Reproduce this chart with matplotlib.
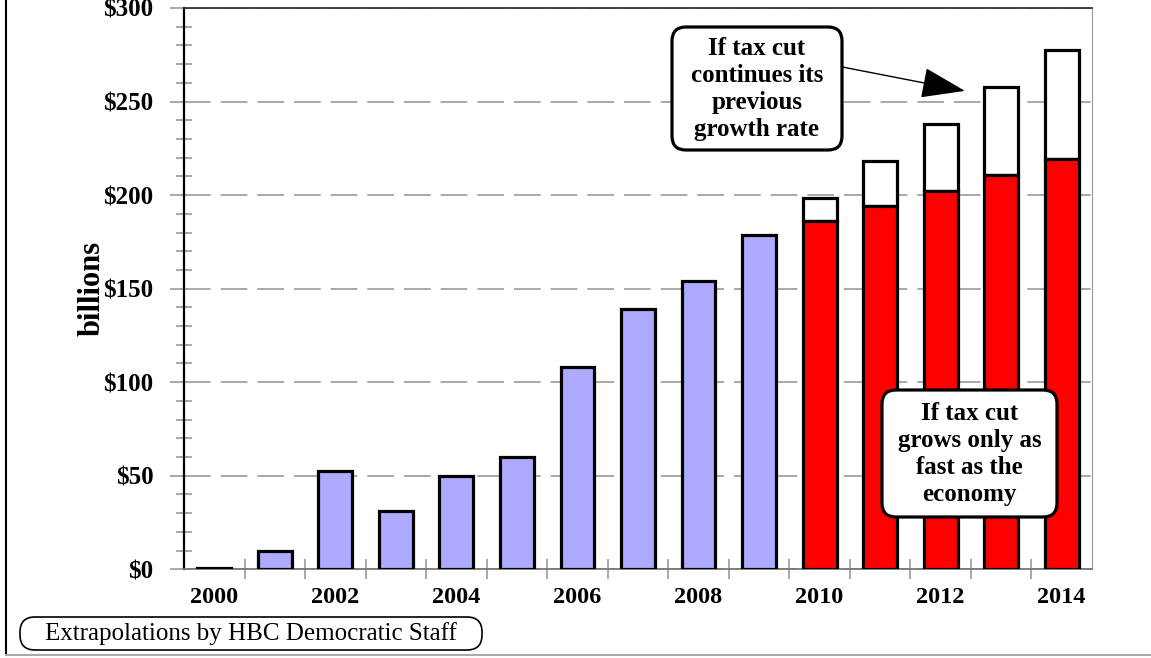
import numpy as np
import matplotlib
matplotlib.use("Agg")
import matplotlib.pyplot as plt
from matplotlib.lines import Line2D
from matplotlib.patches import FancyBboxPatch
from matplotlib.transforms import IdentityTransform
from matplotlib.ticker import MultipleLocator, FuncFormatter

# data (billions of dollars)
years = list(range(2000, 2015))
actual_years = years[:10]
actual_cost = [0.5, 10, 52.3, 31.2, 50.1, 59.8, 108, 139, 154, 178.5]
proj_years = years[10:]
econ_growth = [186.2, 194.2, 202, 210.8, 219.2]     # grows as fast as economy
prev_growth = [198.2, 218, 237.8, 257.6, 277.6]     # continues previous growth rate

plt.rcParams['font.family'] = ['Liberation Serif', 'DejaVu Serif']

W, H = 1151, 658
fig = plt.figure(figsize=(W / 100, H / 100), dpi=100)
ax = fig.add_axes([184 / W, 1 - 569.3 / H, (1092 - 184) / W, (569.3 - 8) / H])

lavender = '#aeaaff'
w = 0.56
xa = np.arange(len(actual_years))
xp = np.arange(len(actual_years), len(years))
ax.bar(xa, actual_cost, width=w, color=lavender, edgecolor='black', linewidth=2.3, zorder=3)
ax.bar(xp, np.array(prev_growth) - np.array(econ_growth), bottom=econ_growth, width=w,
       color='white', edgecolor='black', linewidth=2.3, zorder=3)
ax.bar(xp, econ_growth, width=w, color='#ff0000', edgecolor='black', linewidth=2.3, zorder=3)

ax.set_xlim(-0.5, len(years) - 0.5)
ax.set_ylim(0, 300)

# y axis
ax.yaxis.set_major_locator(MultipleLocator(50))
ax.yaxis.set_minor_locator(MultipleLocator(10))
ax.yaxis.set_major_formatter(FuncFormatter(lambda v, p: '${:d}'.format(int(v))))
ax.tick_params(axis='y', which='major', direction='out', length=10, width=1.2, color='#999999',
               labelsize=18, pad=12)
ax.tick_params(axis='y', which='minor', direction='inout', length=12, width=1.2, color='#999999')
ax.grid(axis='y', which='major', color='#999999', linewidth=1.2, linestyle=(0, (16, 6)), zorder=0)

# x axis
ax.set_xticks(np.arange(0, len(years), 2))
ax.set_xticklabels([str(y) for y in years[::2]])
ax.set_xticks(np.arange(0.5, len(years) - 0.5, 1), minor=True)
ax.tick_params(axis='x', which='major', length=0, labelsize=17.5, pad=13)
ax.tick_params(axis='x', which='minor', direction='inout', length=14, width=1.2, color='#999999')
for lab in ax.get_xticklabels() + ax.get_yticklabels():
    lab.set_fontweight('bold')

ax.spines['left'].set_color('black')
ax.spines['left'].set_linewidth(1.6)
ax.spines['top'].set_color('#333333')
ax.spines['top'].set_linewidth(1.3)
ax.spines['right'].set_color('#999999')
ax.spines['bottom'].set_color('#777777')
ax.spines['bottom'].set_linewidth(1.3)

ax.set_ylabel('billions', fontsize=22, fontweight='bold', labelpad=-2)


def rounded_box(x0, y0, x1, y1, r, lw):
    # box given in pixels from the top-left corner of the image
    fig.add_artist(FancyBboxPatch((x0, H - y1), x1 - x0, y1 - y0,
                                  boxstyle='round,pad=0,rounding_size={}'.format(r),
                                  fc='white', ec='black', lw=lw, transform=IdentityTransform(),
                                  zorder=5))


def px_text(x, y, s, **kw):
    fig.text(x / W, 1 - y / H, s, ha='center', va='center', zorder=6, **kw)


# annotations
ax.annotate('', xy=(12.4, 255.7), xytext=(10.37, 268.5),
            arrowprops=dict(arrowstyle='-|>,head_length=2.0,head_width=0.7', mutation_scale=14,
                            color='black', lw=1.0, shrinkA=0, shrinkB=0), zorder=4)
rounded_box(672, 27, 842, 150, 14, 2.3)
px_text(757, 89, 'If tax cut\ncontinues its\nprevious\ngrowth rate',
        fontsize=18, fontweight='bold', linespacing=1.22)
rounded_box(882, 390, 1057, 517, 14, 2.3)
px_text(969.5, 454, 'If tax cut\ngrows only as\nfast as the\neconomy',
        fontsize=18, fontweight='bold', linespacing=1.22)

rounded_box(20, 617, 482, 650, 15, 1.2)
px_text(251, 634, 'Extrapolations by HBC Democratic Staff', fontsize=18)

# image frame
fig.add_artist(Line2D([6 / W, 6 / W], [1 - 655 / H, 1], color='black', lw=1.5))
fig.add_artist(Line2D([6 / W, 1], [1 - 655 / H, 1 - 655 / H], color='#aaaaaa', lw=1.5))

fig.savefig('out.png', dpi=100)
